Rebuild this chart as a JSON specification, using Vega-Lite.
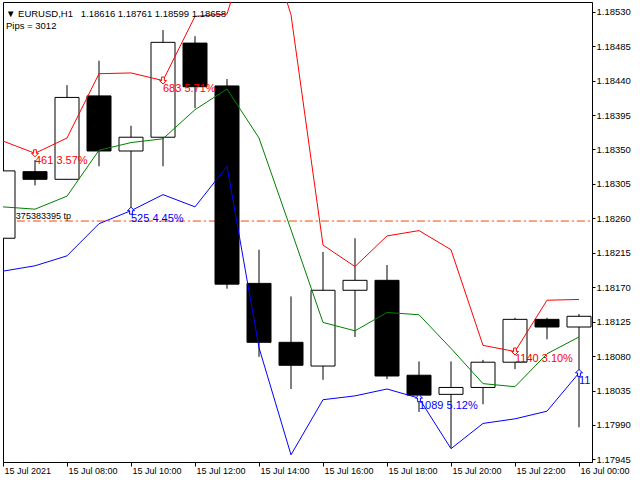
{
  "$schema": "https://vega.github.io/schema/vega-lite/v6.json",
  "width": 589,
  "height": 460,
  "autosize": {"type": "none"},
  "padding": {"left": 3, "top": 2, "right": 48, "bottom": 18},
  "background": "white",
  "config": {
    "view": {"stroke": "black", "strokeWidth": 1},
    "font": "Liberation Sans",
    "axis": {"labelOverlap": false, "labelBound": false, "grid": false},
    "axisY": {"labelOverlap": false},
    "scale": {"continuousPadding": 0}
  },
  "title": {
    "text": "▼ EURUSD,H1\u00a0\u00a0\u00a01.18616 1.18761 1.18599 1.18658",
    "subtitle": "Pips = 3012",
    "anchor": "start",
    "frame": "group",
    "offset": -28,
    "font": "Liberation Sans",
    "fontSize": 9.5,
    "fontWeight": "normal",
    "color": "#000000",
    "subtitleFont": "Liberation Sans",
    "subtitleFontSize": 9.5,
    "subtitleColor": "#000000",
    "subtitlePadding": 2.5,
    "dx": 3
  },
  "datasets": {
    "candles": [
      {"t": "2021-07-15T06:00:00Z", "open": 1.18234, "high": 1.18328, "low": 1.18234, "close": 1.18322, "upper": 1.18361, "middle": 1.18275, "lower": 1.18191},
      {"t": "2021-07-15T07:00:00Z", "open": 1.18321, "high": 1.18336, "low": 1.18303, "close": 1.18311, "upper": 1.18345, "middle": 1.18272, "lower": 1.18198},
      {"t": "2021-07-15T08:00:00Z", "open": 1.18311, "high": 1.18434, "low": 1.18311, "close": 1.18418, "upper": 1.18365, "middle": 1.18289, "lower": 1.18211},
      {"t": "2021-07-15T09:00:00Z", "open": 1.18420, "high": 1.18466, "low": 1.18328, "close": 1.18348, "upper": 1.18449, "middle": 1.18349, "lower": 1.18253},
      {"t": "2021-07-15T10:00:00Z", "open": 1.18348, "high": 1.18381, "low": 1.18271, "close": 1.18366, "upper": 1.18450, "middle": 1.18359, "lower": 1.18270},
      {"t": "2021-07-15T11:00:00Z", "open": 1.18366, "high": 1.18506, "low": 1.18328, "close": 1.18490, "upper": 1.18440, "middle": 1.18364, "lower": 1.18291},
      {"t": "2021-07-15T12:00:00Z", "open": 1.18489, "high": 1.18498, "low": 1.18404, "close": 1.18432, "upper": 1.18524, "middle": 1.18402, "lower": 1.18275},
      {"t": "2021-07-15T13:00:00Z", "open": 1.18433, "high": 1.18442, "low": 1.18168, "close": 1.18174, "upper": 1.18527, "middle": 1.18429, "lower": 1.18328},
      {"t": "2021-07-15T14:00:00Z", "open": 1.18175, "high": 1.18219, "low": 1.18079, "close": 1.18098, "upper": 1.18660, "middle": 1.18365, "lower": 1.18091},
      {"t": "2021-07-15T15:00:00Z", "open": 1.18098, "high": 1.18158, "low": 1.18037, "close": 1.18068, "upper": 1.18526, "middle": 1.18245, "lower": 1.17951},
      {"t": "2021-07-15T16:00:00Z", "open": 1.18067, "high": 1.18216, "low": 1.18049, "close": 1.18166, "upper": 1.18225, "middle": 1.18124, "lower": 1.18023},
      {"t": "2021-07-15T17:00:00Z", "open": 1.18166, "high": 1.18234, "low": 1.18105, "close": 1.18179, "upper": 1.18197, "middle": 1.18113, "lower": 1.18028},
      {"t": "2021-07-15T18:00:00Z", "open": 1.18179, "high": 1.18199, "low": 1.18050, "close": 1.18054, "upper": 1.18237, "middle": 1.18137, "lower": 1.18037},
      {"t": "2021-07-15T19:00:00Z", "open": 1.18055, "high": 1.18073, "low": 1.18007, "close": 1.18029, "upper": 1.18244, "middle": 1.18134, "lower": 1.18025},
      {"t": "2021-07-15T20:00:00Z", "open": 1.18030, "high": 1.18073, "low": 1.17960, "close": 1.18039, "upper": 1.18219, "middle": 1.18090, "lower": 1.17959},
      {"t": "2021-07-15T21:00:00Z", "open": 1.18039, "high": 1.18075, "low": 1.18017, "close": 1.18072, "upper": 1.18094, "middle": 1.18044, "lower": 1.17992},
      {"t": "2021-07-15T22:00:00Z", "open": 1.18072, "high": 1.18130, "low": 1.18063, "close": 1.18128, "upper": 1.18086, "middle": 1.18040, "lower": 1.17998},
      {"t": "2021-07-15T23:00:00Z", "open": 1.18128, "high": 1.18130, "low": 1.18102, "close": 1.18118, "upper": 1.18153, "middle": 1.18083, "lower": 1.18008},
      {"t": "2021-07-16T00:00:00Z", "open": 1.18118, "high": 1.18135, "low": 1.17987, "close": 1.18132, "upper": 1.18154, "middle": 1.18105, "lower": 1.18058}
    ],
    "signals": [
      {"t": "2021-07-15T07:00:00Z", "price": 1.18345, "side": "sell", "label": "461 3.57%"},
      {"t": "2021-07-15T11:00:00Z", "price": 1.18440, "side": "sell", "label": "683 5.71%"},
      {"t": "2021-07-15T22:00:00Z", "price": 1.18086, "side": "sell", "label": "1140 3.10%"},
      {"t": "2021-07-15T10:00:00Z", "price": 1.18270, "side": "buy", "label": "525 4.45%"},
      {"t": "2021-07-15T19:00:00Z", "price": 1.18025, "side": "buy", "label": "1089 5.12%"},
      {"t": "2021-07-16T00:00:00Z", "price": 1.18058, "side": "buy", "label": "11"}
    ],
    "tp": [
      {"t": "2021-07-15T06:26:00Z", "t2": "2021-07-16T01:00:00Z", "price": 1.182565, "label": "375383395 tp"}
    ]
  },
  "layer": [
    {
      "data": {"name": "tp"},
      "mark": {"type": "rule", "color": "#FF4500", "strokeWidth": 1, "strokeDash": [8, 3, 2, 3], "clip": true},
      "encoding": {
        "x": {
          "field": "t", "type": "temporal", "title": null,
          "scale": {"type": "utc", "domain": [1626328800000, 1626395062500], "padding": 0},
          "axis": {
            "values": [1626328800000, 1626336000000, 1626343200000, 1626350400000, 1626357600000, 1626364800000, 1626372000000, 1626379200000, 1626386400000, 1626393600000],
            "tickCount": 20,
            "labelExpr": "time(datum.value) == 1626328800000 ? '15 Jul 2021' : utcFormat(datum.value, '%d %b %H:%M')",
            "labelAlign": "left",
            "labelBaseline": "top",
            "labelPadding": 0,
            "labelOffset": 1,
            "tickSize": 4,
            "labelFont": "Liberation Sans",
            "labelFontSize": 9,
            "labelColor": "black",
            "tickColor": "black",
            "domainColor": "black",
            "grid": false,
            "title": null,
            "labelFlush": false,
            "labelOverlap": false,
            "labelBound": false
          }
        },
        "x2": {"field": "t2"},
        "y": {
          "field": "price", "type": "quantitative", "title": null,
          "scale": {"domain": [1.179416, 1.185427], "zero": false, "nice": false},
          "axis": {
            "orient": "right",
            "values": [1.17945, 1.1799, 1.18035, 1.1808, 1.18125, 1.1817, 1.18215, 1.1826, 1.18305, 1.1835, 1.18395, 1.1844, 1.18485, 1.1853],
            "tickCount": 30,
            "format": ".5f",
            "tickSize": 3,
            "labelPadding": 1,
            "labelFont": "Liberation Sans",
            "labelFontSize": 9.5,
            "labelColor": "black",
            "tickColor": "black",
            "domainColor": "black",
            "grid": false,
            "title": null,
            "labelOverlap": false,
            "labelBound": false,
            "labelFlush": false
          }
        }
      }
    },
    {
      "data": {"name": "candles"},
      "mark": {"type": "rule", "color": "black", "strokeWidth": 1, "clip": true},
      "encoding": {
        "x": {"field": "t", "type": "temporal", "title": null},
        "y": {"field": "low", "type": "quantitative", "title": null},
        "y2": {"field": "high"}
      }
    },
    {
      "data": {"name": "candles"},
      "mark": {"type": "bar", "size": 24, "stroke": "black", "strokeWidth": 1, "clip": true},
      "encoding": {
        "x": {"field": "t", "type": "temporal", "title": null},
        "y": {"field": "open", "type": "quantitative", "title": null},
        "y2": {"field": "close"},
        "fill": {"condition": {"test": "datum.close >= datum.open", "value": "white"}, "value": "black"}
      }
    },
    {
      "data": {"name": "candles"},
      "mark": {"type": "line", "color": "#FF0000", "strokeWidth": 1, "clip": true},
      "encoding": {
        "x": {"field": "t", "type": "temporal", "title": null},
        "y": {"field": "upper", "type": "quantitative", "title": null}
      }
    },
    {
      "data": {"name": "candles"},
      "mark": {"type": "line", "color": "#008000", "strokeWidth": 1, "clip": true},
      "encoding": {
        "x": {"field": "t", "type": "temporal", "title": null},
        "y": {"field": "middle", "type": "quantitative", "title": null}
      }
    },
    {
      "data": {"name": "candles"},
      "mark": {"type": "line", "color": "#0000FF", "strokeWidth": 1, "clip": true},
      "encoding": {
        "x": {"field": "t", "type": "temporal", "title": null},
        "y": {"field": "lower", "type": "quantitative", "title": null}
      }
    },
    {
      "data": {"name": "signals"},
      "mark": {"type": "point", "filled": false, "fill": "white", "strokeWidth": 1, "size": 49, "opacity": 1, "clip": true},
      "encoding": {
        "x": {"field": "t", "type": "temporal", "title": null},
        "y": {"field": "price", "type": "quantitative", "title": null},
        "color": {"field": "side", "type": "nominal", "legend": null, "scale": {"domain": ["sell", "buy"], "range": ["#FF0000", "#0000FF"]}},
        "shape": {"field": "side", "type": "nominal", "legend": null, "scale": {"domain": ["sell", "buy"], "range": ["M-0.4,-1L0.4,-1L0.4,0L1,0L0,1L-1,0L-0.4,0Z", "M-0.4,1L0.4,1L0.4,0L1,0L0,-1L-1,0L-0.4,0Z"]}}
      }
    },
    {
      "data": {"name": "signals"},
      "mark": {"type": "text", "align": "left", "baseline": "middle", "dy": 8, "fontSize": 11, "font": "Liberation Sans", "clip": true},
      "encoding": {
        "x": {"field": "t", "type": "temporal", "title": null},
        "y": {"field": "price", "type": "quantitative", "title": null},
        "text": {"field": "label"},
        "color": {"field": "side", "type": "nominal", "legend": null, "scale": {"domain": ["sell", "buy"], "range": ["#FF0000", "#0000FF"]}}
      }
    },
    {
      "data": {"name": "tp"},
      "mark": {"type": "text", "align": "left", "baseline": "middle", "dy": -5, "dx": -1, "fontSize": 9, "font": "Liberation Sans", "color": "black"},
      "encoding": {
        "x": {"field": "t", "type": "temporal", "title": null},
        "y": {"field": "price", "type": "quantitative", "title": null},
        "text": {"field": "label"}
      }
    }
  ]
}
